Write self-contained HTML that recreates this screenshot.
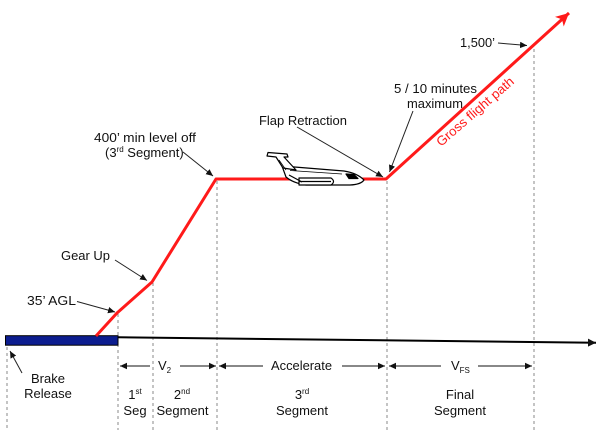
<!DOCTYPE html>
<html>
<head>
<meta charset="utf-8">
<style>
html,body{margin:0;padding:0;background:#fff;}
svg{display:block;}
text{font-family:"Liberation Sans",Arial,sans-serif;font-size:13px;fill:#111;}
</style>
</head>
<body>
<svg width="600" height="430" viewBox="0 0 600 430" xmlns="http://www.w3.org/2000/svg">
<defs>
  <marker id="ah" markerUnits="userSpaceOnUse" markerWidth="10" markerHeight="10" refX="8" refY="5" orient="auto">
    <path d="M0,1 L8,5 L0,9 Z" fill="#111"/>
  </marker>
  <marker id="ahs" markerUnits="userSpaceOnUse" markerWidth="9" markerHeight="8" refX="7" refY="4" orient="auto">
    <path d="M0,0.8 L7,4 L0,7.2 Z" fill="#111"/>
  </marker>
  <marker id="ahr" markerUnits="userSpaceOnUse" markerWidth="16" markerHeight="16" refX="13" refY="8" orient="auto">
    <path d="M0,1.5 L13,8 L0,14.5 L3.5,8 Z" fill="#ff1a1a"/>
  </marker>
</defs>

<!-- dashed verticals -->
<g stroke="#8a8a8a" stroke-width="1" stroke-dasharray="3,3" fill="none">
  <line x1="7" y1="347" x2="7" y2="430"/>
  <line x1="118" y1="314" x2="118" y2="430"/>
  <line x1="153" y1="283" x2="153" y2="430"/>
  <line x1="217" y1="181" x2="217" y2="430"/>
  <line x1="387" y1="181" x2="387" y2="430"/>
  <line x1="534" y1="49" x2="534" y2="430"/>
</g>

<!-- ground line -->
<line x1="118" y1="337.3" x2="596" y2="342.7" stroke="#000" stroke-width="2" marker-end="url(#ah)"/>
<!-- blue runway bar -->
<rect x="5.5" y="335.7" width="112.5" height="9.5" fill="#0c1d8f" stroke="#000" stroke-width="1"/>

<!-- red flight path -->
<polyline points="96,336 117,313 152,282 216,179 386,179 569,13" fill="none" stroke="#ff1a1a" stroke-width="3" stroke-linejoin="round" marker-end="url(#ahr)"/>

<!-- airplane -->
<g stroke="#000" stroke-width="1.2" fill="#fff" stroke-linejoin="round">
  <path d="M282,166 L344,171 Q357,173 364,180 Q361,184.5 350,185 L306,185 Q293,183 286,177 Z"/>
  <path d="M283,168 L276,157 L267,156 L268,152.5 L287,154 L288,157 L284,157 L296,170 Z"/>
  <path d="M299,178 L331,178 Q336,181.5 331,185 L299,185 Z"/>
  <line x1="299" y1="181.5" x2="331" y2="181.5"/>
  <path d="M289,175 L302,182" fill="none"/>
  <path d="M346,174 L354,174.5 L358,178.5 L349,178.5 Z" fill="#000"/>
  <line x1="290" y1="170.5" x2="342" y2="174" stroke-width="0.8"/>
  <line x1="279" y1="160" x2="286" y2="170" stroke-width="0.8"/>
</g>

<!-- V2 / Accelerate / VFS arrows -->
<g stroke="#111" stroke-width="1" fill="none">
  <line x1="150" y1="366" x2="120" y2="366" marker-end="url(#ahs)"/>
  <line x1="180" y1="366" x2="216" y2="366" marker-end="url(#ahs)"/>
  <line x1="263" y1="366" x2="219" y2="366" marker-end="url(#ahs)"/>
  <line x1="342" y1="366" x2="385" y2="366" marker-end="url(#ahs)"/>
  <line x1="441" y1="366" x2="389" y2="366" marker-end="url(#ahs)"/>
  <line x1="478" y1="366" x2="532" y2="366" marker-end="url(#ahs)"/>
</g>

<!-- annotation arrows -->
<g stroke="#222" stroke-width="1" fill="none">
  <line x1="22" y1="373" x2="10" y2="351" marker-end="url(#ahs)"/>
  <line x1="77" y1="301.5" x2="115" y2="312" marker-end="url(#ahs)"/>
  <line x1="115" y1="260" x2="147" y2="280.5" marker-end="url(#ahs)"/>
  <line x1="183" y1="152" x2="213" y2="176" marker-end="url(#ahs)"/>
  <line x1="297" y1="127" x2="383" y2="177" marker-end="url(#ahs)"/>
  <line x1="413" y1="111" x2="389.5" y2="172" marker-end="url(#ahs)"/>
  <line x1="498" y1="43" x2="527" y2="45.5" marker-end="url(#ahs)"/>
</g>

<!-- labels -->
<text x="48" y="383" text-anchor="middle">Brake</text>
<text x="48" y="398" text-anchor="middle">Release</text>

<text x="135" y="399" text-anchor="middle">1<tspan font-size="8" dy="-5">st</tspan></text>
<text x="135" y="415" text-anchor="middle">Seg</text>

<text x="182" y="399" text-anchor="middle">2<tspan font-size="8" dy="-5">nd</tspan></text>
<text x="182.5" y="415" text-anchor="middle">Segment</text>

<text x="302" y="399" text-anchor="middle">3<tspan font-size="8" dy="-5">rd</tspan></text>
<text x="302" y="415" text-anchor="middle">Segment</text>

<text x="460" y="399" text-anchor="middle">Final</text>
<text x="460" y="415" text-anchor="middle">Segment</text>

<text x="158" y="370">V<tspan font-size="8" dy="3">2</tspan></text>
<text x="271" y="370" textLength="61" lengthAdjust="spacingAndGlyphs">Accelerate</text>
<text x="451" y="370">V<tspan font-size="8" dy="3">FS</tspan></text>

<text x="27" y="305" textLength="49" lengthAdjust="spacingAndGlyphs">35’ AGL</text>
<text x="61" y="260" textLength="49" lengthAdjust="spacingAndGlyphs">Gear Up</text>
<text x="94" y="142" textLength="102" lengthAdjust="spacingAndGlyphs">400’ min level off</text>
<text x="105" y="157">(3<tspan font-size="8" dy="-5">rd</tspan><tspan dy="5"> Segment)</tspan></text>
<text x="259" y="125" textLength="88" lengthAdjust="spacingAndGlyphs">Flap Retraction</text>
<text x="394" y="93" textLength="83" lengthAdjust="spacingAndGlyphs">5 / 10 minutes</text>
<text x="407" y="108" textLength="56" lengthAdjust="spacingAndGlyphs">maximum</text>
<text x="460" y="47" textLength="35" lengthAdjust="spacingAndGlyphs">1,500’</text>

<text x="441" y="147" transform="rotate(-41 441 147)" style="fill:#ff1a1a" textLength="98" lengthAdjust="spacingAndGlyphs">Gross flight path</text>
</svg>
</body>
</html>
